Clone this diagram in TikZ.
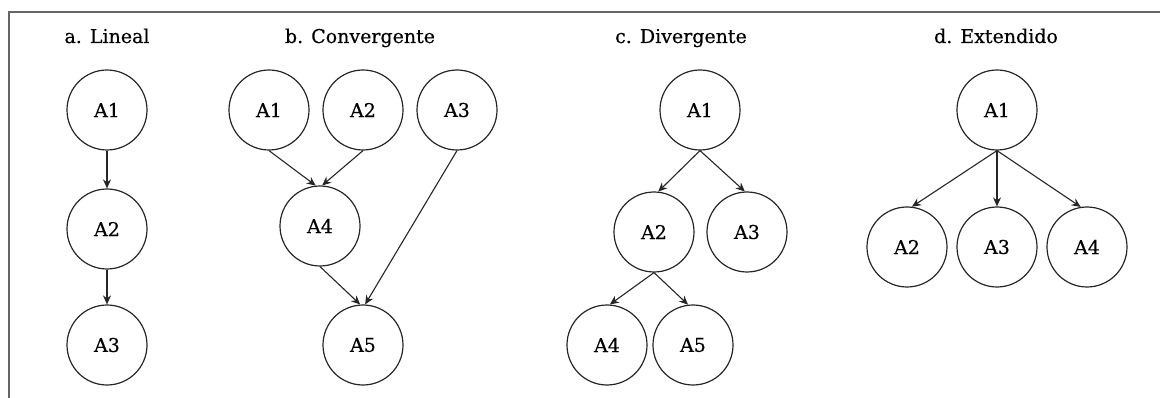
\documentclass[tikz,border=0pt]{standalone}
\usepackage{fontspec}
\setmainfont{DejaVu Serif}[BoldFont={DejaVu Serif},BoldFeatures={FakeBold=0.35}]
\usetikzlibrary{arrows.meta}
\begin{document}
\begin{tikzpicture}[x=1pt,y=-1pt,
  act/.style={circle,draw=black!85,line width=1.2pt,minimum size=80pt,inner sep=0pt,
              font=\fontsize{19}{22}\selectfont\bfseries},
  ttl/.style={font=\fontsize{19}{22}\selectfont\bfseries,anchor=base},
  link/.style={draw=black!85,line width=1.1pt,-{Stealth[length=9pt,width=8pt]}},
  frame/.style={draw=black!60,line width=1.8pt}]
\useasboundingbox (0,0) rectangle (1160,398);
% open frame: top rule and left rule
\draw[frame] (9,398) -- (9,12) -- (1160,12);

% titles
\node[ttl] (ta) at (107,43) {a. Lineal};
\node[ttl] (tb) at (360,43) {b. Convergente};
\node[ttl] (tc) at (681,43) {c. Divergente};
\node[ttl] (td) at (996,43) {d. Extendido};

% a. linear chain
\node[act] (a1) at (107,110) {A1};
\node[act] (a2) at (107,229) {A2};
\node[act] (a3) at (107,345) {A3};
\draw[link] (a1.south) -- (a2.north);
\draw[link] (a2.south) -- (a3.north);

% b. convergent
\node[act] (b1) at (269,110) {A1};
\node[act] (b2) at (363,110) {A2};
\node[act] (b3) at (457,110) {A3};
\node[act] (b4) at (320,226) {A4};
\node[act] (b5) at (363,345) {A5};
\draw[link] (b1.south) -- (b4.96);
\draw[link] (b2.south) -- (b4.87);
\draw[link] (b4.south) -- (b5.94);
\draw[link] (b3.south) -- (b5.87);

% c. divergent
\node[act] (c1) at (700,110) {A1};
\node[act] (c2) at (654,232) {A2};
\node[act] (c3) at (747,232) {A3};
\node[act] (c4) at (607,345) {A4};
\node[act] (c5) at (693,345) {A5};
\draw[link] (c1.south) -- (c2.84);
\draw[link] (c1.south) -- (c3.93);
\draw[link] (c2.south) -- (c4.86);
\draw[link] (c2.south) -- (c5.97);

% d. extended
\node[act] (d1) at (997,110) {A1};
\node[act] (d2) at (907,247) {A2};
\node[act] (d3) at (997,247) {A3};
\node[act] (d4) at (1087,247) {A4};
\draw[link] (d1.south) -- (d2.83);
\draw[link] (d1.south) -- (d3.north);
\draw[link] (d1.south) -- (d4.99);
\end{tikzpicture}
\end{document}
